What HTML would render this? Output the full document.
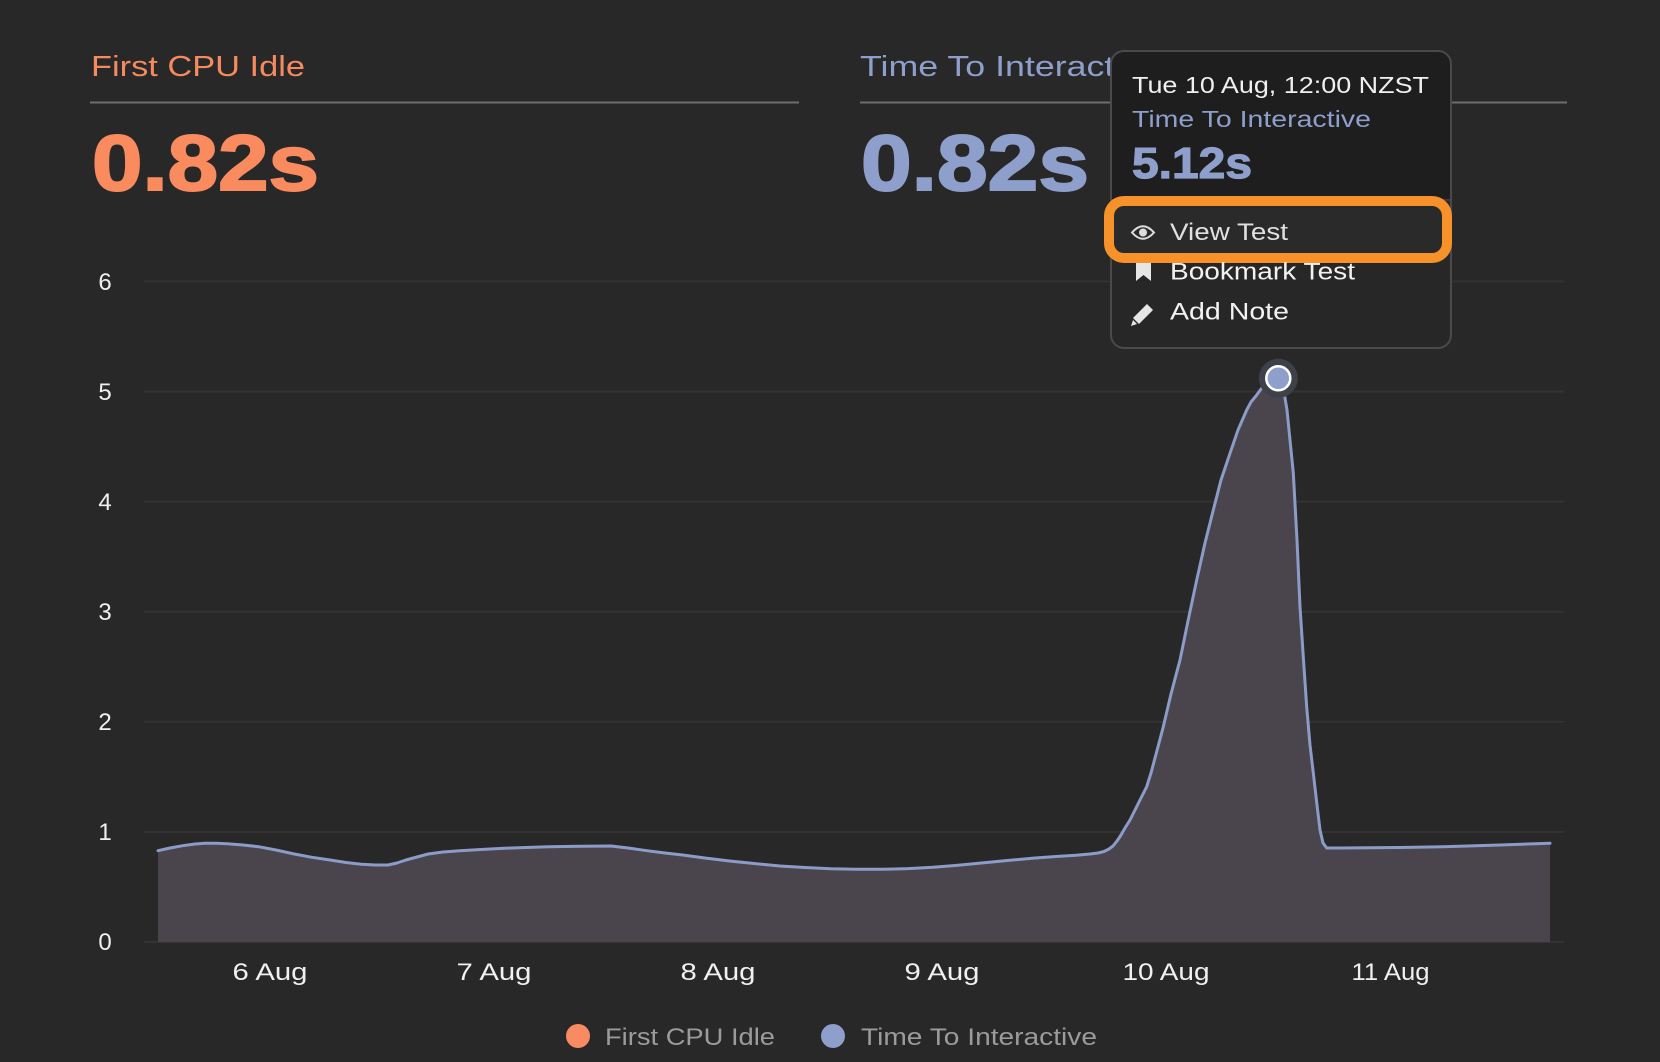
<!DOCTYPE html>
<html>
<head>
<meta charset="utf-8">
<style>
  html, body { margin:0; padding:0; background:#282828; }
  body { width:1660px; height:1062px; overflow:hidden; }
  svg { display:block; font-family:"Liberation Sans", sans-serif; }
</style>
</head>
<body>
<svg width="1660" height="1062" viewBox="0 0 1660 1062" xmlns="http://www.w3.org/2000/svg">
  <rect x="0" y="0" width="1660" height="1062" fill="#282828"/>

  <!-- Header left -->
  <text x="91" y="76" font-size="29" fill="#f48a5e" textLength="214" lengthAdjust="spacingAndGlyphs">First CPU Idle</text>
  <line x1="90" y1="102.5" x2="799" y2="102.5" stroke="#6e6e6e" stroke-width="2"/>
  <text x="92" y="190" font-size="79" font-weight="bold" fill="#f98b5e" stroke="#f98b5e" stroke-width="2" textLength="227" lengthAdjust="spacingAndGlyphs">0.82s</text>

  <!-- Header right -->
  <text x="860" y="76" font-size="29" fill="#8e9fcb" textLength="300" lengthAdjust="spacingAndGlyphs">Time To Interactive</text>
  <line x1="860" y1="102.5" x2="1567" y2="102.5" stroke="#6e6e6e" stroke-width="2"/>
  <text x="861" y="190" font-size="79" font-weight="bold" fill="#8e9fcb" stroke="#8e9fcb" stroke-width="2" textLength="228" lengthAdjust="spacingAndGlyphs">0.82s</text>

  <!-- Gridlines -->
  <g stroke="#333333" stroke-width="2">
    <line x1="144" y1="281.4" x2="1564" y2="281.4"/>
    <line x1="144" y1="391.5" x2="1564" y2="391.5"/>
    <line x1="144" y1="501.6" x2="1564" y2="501.6"/>
    <line x1="144" y1="611.7" x2="1564" y2="611.7"/>
    <line x1="144" y1="721.8" x2="1564" y2="721.8"/>
    <line x1="144" y1="831.9" x2="1564" y2="831.9"/>
    <line x1="144" y1="942" x2="1564" y2="942"/>
  </g>

  <!-- Y labels -->
  <g font-size="24" fill="#f0f0f0" text-anchor="middle">
    <text x="105" y="290">6</text>
    <text x="105" y="400">5</text>
    <text x="105" y="510">4</text>
    <text x="105" y="620">3</text>
    <text x="105" y="730">2</text>
    <text x="105" y="840">1</text>
    <text x="105" y="950">0</text>
  </g>

  <!-- Area + line -->
  <path fill="#4a454c" d="M158,850.7 L170,848 L182.7,845.7 L195,844 L205,843.3 L216,843.3 L227.3,843.7 L243,845 L258.6,846.7 L276,850 L294.3,854 L312,857.3 L330,860 L346,862.5 L361.3,864.3 L375,865 L388,865 L397,863 L405.9,860 L417,857 L428.2,854 L443,852 L459.5,850.7 L481,849.5 L504,848.3 L526,847.5 L548.8,846.7 L580,846.2 L611.2,846 L630,848.3 L647,850.7 L665,853 L682.7,855 L705,858 L727.3,860.7 L754,863.5 L780,866 L805,867.5 L831,868.7 L856,869.2 L882,869.3 L908,868.6 L933,867.3 L958,865.3 L984,862.7 L1010,860.3 L1035,858 L1056,856.5 L1076,855.3 L1090,854 L1098,853 L1104,851.5 L1109,849 L1113,846 L1117,841 L1121,835 L1125,828 L1130,820 L1137,806 L1142,796 L1146.7,786.7 L1151,773 L1155,758 L1159,743 L1163.3,726.7 L1171,694 L1180,660 L1188,621 L1196.7,580 L1205,543 L1213.3,510 L1221,480 L1230,453.3 L1238,430 L1246.7,410 L1251,402 L1256.7,395 L1261,389 L1266.7,383.3 L1272,380 L1278,378 L1281,382 L1284,392 L1287,410 L1289,430 L1291,450 L1293.3,473 L1297,540 L1300,607 L1303.5,660 L1306.7,707 L1310,745 L1313.3,773 L1317,805 L1320,830 L1323,843 L1326.7,848 L1340,848 L1400,847.5 L1443,846.7 L1500,845 L1550,843.3 L1550,942 L158,942 Z"/>
  <path fill="none" stroke="#8c9cc8" stroke-width="3" stroke-linejoin="round" stroke-linecap="round" d="M158,850.7 L170,848 L182.7,845.7 L195,844 L205,843.3 L216,843.3 L227.3,843.7 L243,845 L258.6,846.7 L276,850 L294.3,854 L312,857.3 L330,860 L346,862.5 L361.3,864.3 L375,865 L388,865 L397,863 L405.9,860 L417,857 L428.2,854 L443,852 L459.5,850.7 L481,849.5 L504,848.3 L526,847.5 L548.8,846.7 L580,846.2 L611.2,846 L630,848.3 L647,850.7 L665,853 L682.7,855 L705,858 L727.3,860.7 L754,863.5 L780,866 L805,867.5 L831,868.7 L856,869.2 L882,869.3 L908,868.6 L933,867.3 L958,865.3 L984,862.7 L1010,860.3 L1035,858 L1056,856.5 L1076,855.3 L1090,854 L1098,853 L1104,851.5 L1109,849 L1113,846 L1117,841 L1121,835 L1125,828 L1130,820 L1137,806 L1142,796 L1146.7,786.7 L1151,773 L1155,758 L1159,743 L1163.3,726.7 L1171,694 L1180,660 L1188,621 L1196.7,580 L1205,543 L1213.3,510 L1221,480 L1230,453.3 L1238,430 L1246.7,410 L1251,402 L1256.7,395 L1261,389 L1266.7,383.3 L1272,380 L1278,378 L1281,382 L1284,392 L1287,410 L1289,430 L1291,450 L1293.3,473 L1297,540 L1300,607 L1303.5,660 L1306.7,707 L1310,745 L1313.3,773 L1317,805 L1320,830 L1323,843 L1326.7,848 L1340,848 L1400,847.5 L1443,846.7 L1500,845 L1550,843.3"/>

  <!-- Marker -->
  <circle cx="1278.3" cy="378.3" r="19.5" fill="#3e414a"/>
  <circle cx="1278.3" cy="378.3" r="12" fill="#8e9fcb" stroke="#ffffff" stroke-width="2.5"/>

  <!-- X labels -->
  <g font-size="24" fill="#f0f0f0" text-anchor="middle">
    <text x="270" y="980" textLength="75" lengthAdjust="spacingAndGlyphs">6 Aug</text>
    <text x="494" y="980" textLength="75" lengthAdjust="spacingAndGlyphs">7 Aug</text>
    <text x="718" y="980" textLength="75" lengthAdjust="spacingAndGlyphs">8 Aug</text>
    <text x="942" y="980" textLength="75" lengthAdjust="spacingAndGlyphs">9 Aug</text>
    <text x="1166" y="980" textLength="87" lengthAdjust="spacingAndGlyphs">10 Aug</text>
    <text x="1390.5" y="980" textLength="78" lengthAdjust="spacingAndGlyphs">11 Aug</text>
  </g>

  <!-- Legend -->
  <circle cx="578" cy="1036" r="12" fill="#f98b62"/>
  <text x="605" y="1045" font-size="24" fill="#9b9b9b" textLength="170" lengthAdjust="spacingAndGlyphs">First CPU Idle</text>
  <circle cx="833" cy="1036" r="12" fill="#8e9fcb"/>
  <text x="861" y="1045" font-size="24" fill="#9b9b9b" textLength="236" lengthAdjust="spacingAndGlyphs">Time To Interactive</text>

  <!-- Tooltip -->
  <defs>
    <clipPath id="tipclip">
      <rect x="1111" y="51" width="340" height="297" rx="13" ry="13"/>
    </clipPath>
  </defs>
  <g clip-path="url(#tipclip)">
    <rect x="1111" y="51" width="340" height="297" fill="#1e1e1e"/>
    <rect x="1111" y="200" width="340" height="148" fill="#272727"/>
    <line x1="1111" y1="200" x2="1451" y2="200" stroke="#3a3a3a" stroke-width="2"/>
  </g>
  <rect x="1111" y="51" width="340" height="297" rx="13" ry="13" fill="none" stroke="#4a4a4a" stroke-width="2"/>

  <text x="1132" y="93" font-size="23" fill="#f0f0f0" textLength="297" lengthAdjust="spacingAndGlyphs">Tue 10 Aug, 12:00 NZST</text>
  <text x="1132" y="127" font-size="23" fill="#8e9fcb" textLength="239" lengthAdjust="spacingAndGlyphs">Time To Interactive</text>
  <text x="1132" y="178" font-size="44" font-weight="bold" fill="#8e9fcb" stroke="#8e9fcb" stroke-width="1.2" textLength="120" lengthAdjust="spacingAndGlyphs">5.12s</text>

  <!-- Highlight box -->
  <rect x="1109" y="201" width="338" height="57" rx="15" ry="15" fill="#2a2a2a" stroke="#f7922b" stroke-width="10"/>

  <!-- Menu items -->
  <path d="M1132,232.5 Q1143,220 1154,232.5 Q1143,245 1132,232.5 Z" fill="none" stroke="#dddddd" stroke-width="2"/>
  <circle cx="1143" cy="232.5" r="4" fill="#dddddd"/>
  <text x="1170" y="240" font-size="24" fill="#e0e0e0" textLength="118" lengthAdjust="spacingAndGlyphs">View Test</text>

  <path d="M1136,263 H1151 V281 L1143.5,275 L1136,281 Z" fill="#e6e6e6"/>
  <text x="1170" y="279.5" font-size="24" fill="#f2f2f2" textLength="185" lengthAdjust="spacingAndGlyphs">Bookmark Test</text>

  <path d="M1147,304 L1153,310 L1139,324 L1133,318 Z" fill="#e6e6e6"/>
  <path d="M1133,320 L1137,324 L1131,326 Z" fill="#e6e6e6"/>
  <text x="1170" y="319.5" font-size="24" fill="#f2f2f2" textLength="119" lengthAdjust="spacingAndGlyphs">Add Note</text>
</svg>
</body>
</html>
